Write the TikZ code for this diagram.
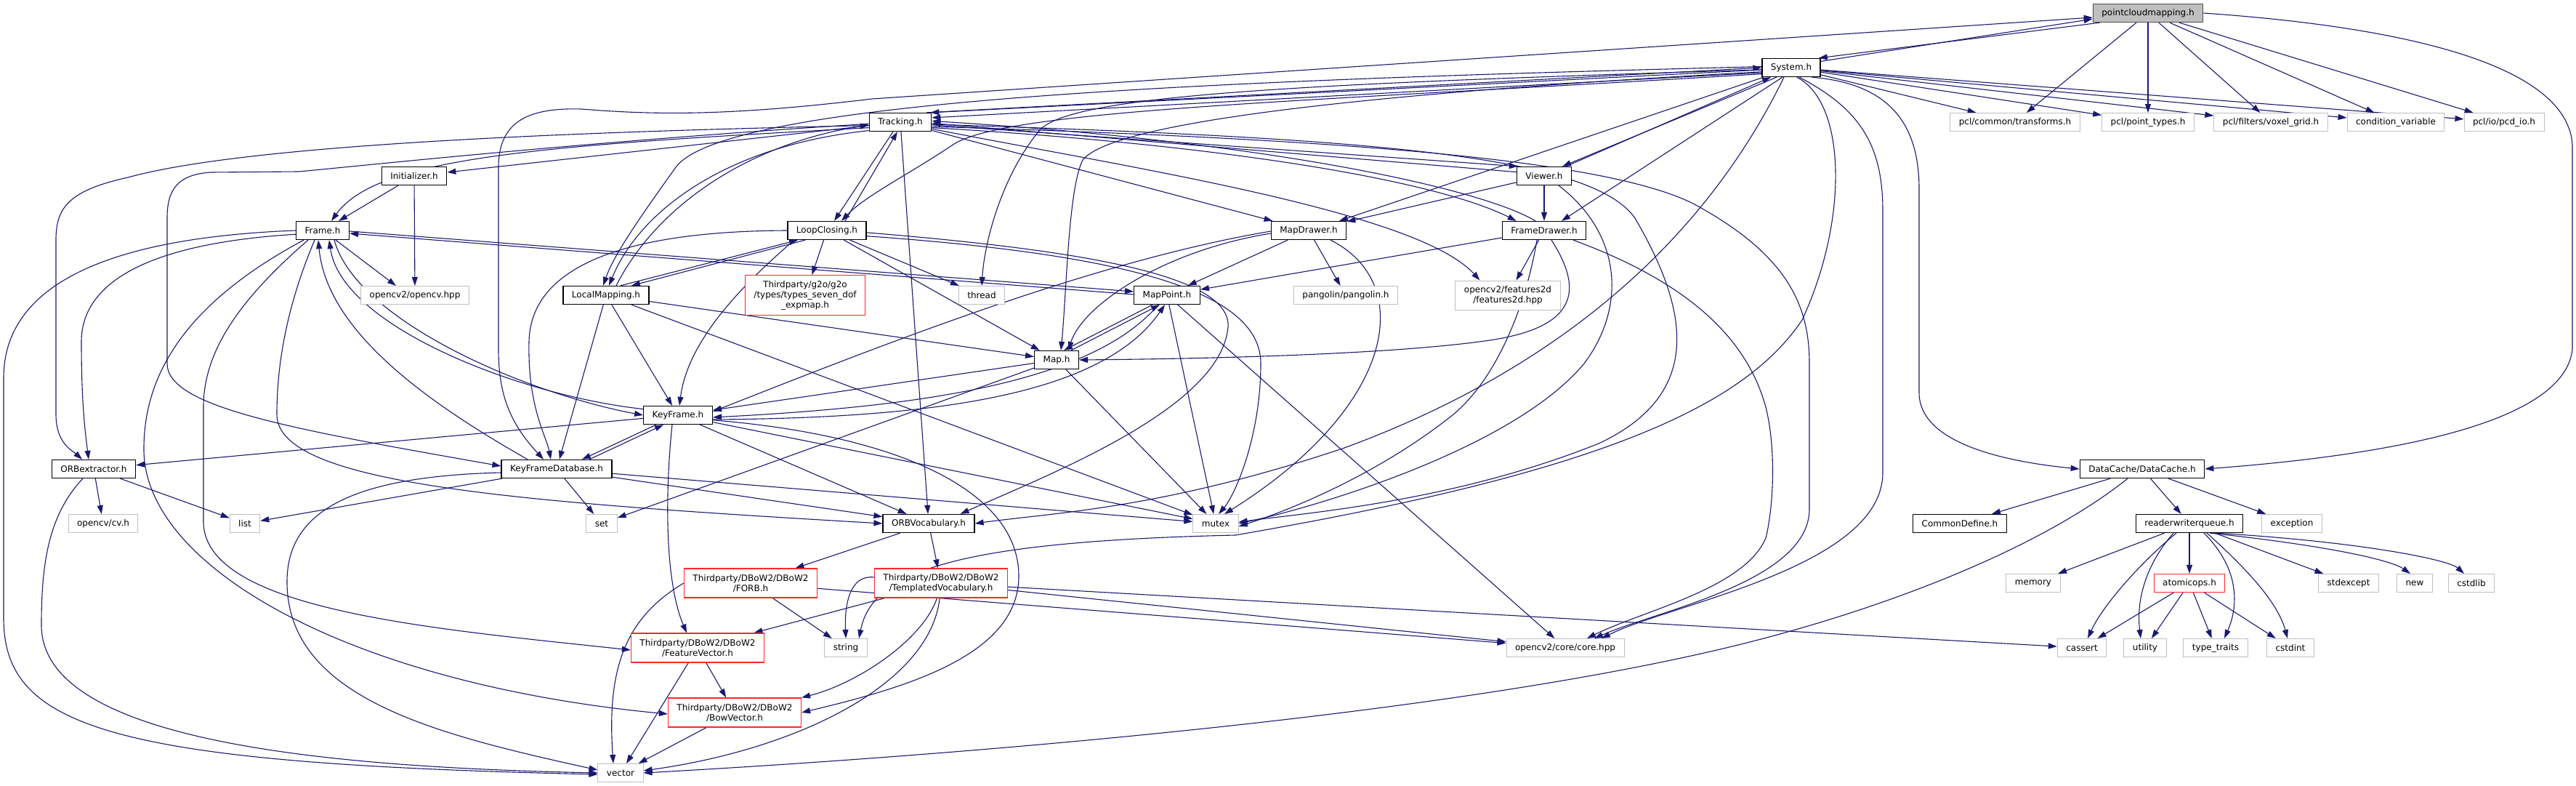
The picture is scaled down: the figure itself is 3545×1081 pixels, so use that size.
\documentclass[tikz,border=0pt]{standalone}
\usepackage{fontspec}
\setmainfont{DejaVu Sans}
\usepackage{xcolor}
\usepackage{tikz}
\usetikzlibrary{calc,positioning,arrows.meta,backgrounds}

\definecolor{edgeblue}{RGB}{25,25,112}
\definecolor{boxgray}{RGB}{191,191,191}
\definecolor{boxred}{RGB}{255,40,40}

\tikzset{
  hdr/.style={draw=black, line width=1.3pt, fill=white, inner xsep=12pt,
    inner ysep=0pt, minimum height=25pt, align=center,
    font=\fontsize{12}{14}\selectfont},
  ext/.style={hdr, draw=boxgray, line width=1pt},
  trunc/.style={hdr, draw=boxred, line width=1.2pt},
  root/.style={hdr, fill=boxgray, draw=black!70},
  dep/.style={draw=edgeblue, line width=1.1pt,
    -{Triangle[length=12pt,width=8pt]}},
  mutual/.style={dep, {Triangle[length=12pt,width=8pt]}-{Triangle[length=12pt,width=8pt]}}
}

\begin{document}
\begin{tikzpicture}[x=1pt,y=-1pt]
  \useasboundingbox (0,0) rectangle (3545,1081);

  \node[root] (pcm) at (2956,18) {pointcloudmapping.h};
  \node[hdr] (sys) at (2465,93) {System.h};
  \node[hdr] (trk) at (1239,168) {Tracking.h};
  \node[ext] (tfm) at (2773,168) {pcl/common/transforms.h};
  \node[ext] (ptt) at (2956,168) {pcl/point\_types.h};
  \node[ext] (vox) at (3125,168) {pcl/filters/voxel\_grid.h};
  \node[ext] (cnd) at (3297,168) {condition\_variable};
  \node[ext] (pcd) at (3446,168) {pcl/io/pcd\_io.h};
  \node[hdr] (ini) at (570,242) {Initializer.h};
  \node[hdr] (vwr) at (2125,242) {Viewer.h};
  \node[hdr] (frm) at (444,317) {Frame.h};
  \node[hdr] (lcl) at (1138,317) {LoopClosing.h};
  \node[hdr] (mdr) at (1801,317) {MapDrawer.h};
  \node[hdr] (fdr) at (2125,317) {FrameDrawer.h};
  \node[ext] (ocv) at (571,406) {opencv2/opencv.hpp};
  \node[hdr] (lmp) at (834,406) {LocalMapping.h};
  \node[trunc, minimum height=55pt] (g2o) at (1108,406) {Thirdparty/g2o/g2o\\/types/types\_seven\_dof\\\_expmap.h};
  \node[ext] (thr) at (1351,406) {thread};
  \node[hdr] (mpt) at (1606,406) {MapPoint.h};
  \node[ext] (pgl) at (1852,406) {pangolin/pangolin.h};
  \node[ext, minimum height=40pt] (f2d) at (2075,406) {opencv2/features2d\\/features2d.hpp};
  \node[hdr] (map) at (1454,495) {Map.h};
  \node[hdr] (kfr) at (933,571) {KeyFrame.h};
  \node[hdr] (orbx) at (129,645) {ORBextractor.h};
  \node[hdr] (kfdb) at (766,645) {KeyFrameDatabase.h};
  \node[hdr] (dch) at (2948,645) {DataCache/DataCache.h};
  \node[ext] (cvh) at (142,720) {opencv/cv.h};
  \node[ext] (lst) at (337,720) {list};
  \node[ext] (set) at (828,720) {set};
  \node[hdr] (voc) at (1278,720) {ORBVocabulary.h};
  \node[ext] (mtx) at (1673,720) {mutex};
  \node[hdr] (cmd) at (2697,720) {CommonDefine.h};
  \node[hdr] (rwq) at (3013,720) {readerwriterqueue.h};
  \node[ext] (exc) at (3154,720) {exception};
  \node[trunc, minimum height=40pt] (forb) at (1033,802) {Thirdparty/DBoW2/DBoW2\\/FORB.h};
  \node[trunc, minimum height=40pt] (tvoc) at (1295,802) {Thirdparty/DBoW2/DBoW2\\/TemplatedVocabulary.h};
  \node[ext] (mem) at (2798,802) {memory};
  \node[trunc] (atm) at (3013,802) {atomicops.h};
  \node[ext] (sex) at (3232,802) {stdexcept};
  \node[ext] (new) at (3323,802) {new};
  \node[ext] (csl) at (3401,802) {cstdlib};
  \node[trunc, minimum height=40pt] (fvec) at (960,891) {Thirdparty/DBoW2/DBoW2\\/FeatureVector.h};
  \node[ext] (str) at (1164,891) {string};
  \node[ext] (core) at (2154,891) {opencv2/core/core.hpp};
  \node[ext] (cas) at (2865,891) {cassert};
  \node[ext] (utl) at (2952,891) {utility};
  \node[ext] (ttr) at (3049,891) {type\_traits};
  \node[ext] (cin) at (3152,891) {cstdint};
  \node[trunc, minimum height=40pt] (bvec) at (1011,980) {Thirdparty/DBoW2/DBoW2\\/BowVector.h};
  \node[ext] (vec) at (854,1063) {vector};

  \begin{scope}[on background layer]
    \draw[dep] ([xshift=10pt]pcm.south west) -- ([xshift=-3pt]sys.north east);
    \draw[dep] ([xshift=-3pt,yshift=-5pt]sys.north east) -- ([yshift=5pt]pcm.south west);
    \draw[dep] (pcm) -- (tfm);
    \draw[dep] (pcm) -- (ptt);
    \draw[dep] (pcm) -- (vox);
    \draw[dep] (pcm) -- (cnd);
    \draw[dep] (pcm) -- (pcd);
    \draw[dep] (sys) -- (tfm);
    \draw[dep] (sys) -- (ptt);
    \draw[dep] (sys) -- (vox);
    \draw[dep] (sys) -- (cnd);
    \draw[dep] (sys) -- (pcd);
    \draw[dep] (pcm.east) .. controls (3350,40) and (3535,100) .. (3540,200)
      -- (3540,480) .. controls (3530,580) and (3300,625) .. (dch.east);
    \draw[mutual] ([xshift=-18pt]kfdb.north) .. controls (700,580) and (686,540) .. (686,480)
      -- (686,230) .. controls (686,165) and (730,148) .. (800,150)
      .. controls (900,158) and (1000,160) .. (1200,136) -- ([yshift=-6pt]pcm.west);

    \draw[dep] (sys.335) .. controls (2600,115) and (2641,170) .. (2641,260)
      -- (2641,540) .. controls (2641,610) and (2760,635) .. (dch.west);
    \draw[dep] (dch) -- (cmd);
    \draw[dep] (dch) -- (rwq);
    \draw[dep] (dch) -- (exc);
    \draw[dep] ([xshift=-20pt]dch.south) .. controls (2800,760) and (2580,840) .. (2400,885)
      .. controls (2000,985) and (1300,1040) .. (vec.east);
    \draw[dep] (rwq) -- (mem);
    \draw[dep] (rwq) -- (atm);
    \draw[dep] (rwq) -- (sex);
    \draw[dep] (rwq.335) .. controls (3200,750) and (3290,770) .. ([xshift=-6pt]new.north);
    \draw[dep] (rwq.340) .. controls (3250,745) and (3370,770) .. ([xshift=-10pt]csl.north);
    \draw[dep] ([xshift=-18pt]rwq.south) .. controls (2950,770) and (2895,830) .. ([xshift=8pt]cas.north);
    \draw[dep] ([xshift=-22pt]rwq.south) .. controls (2950,780) and (2940,830) .. ([xshift=-6pt]utl.north);
    \draw[dep] ([xshift=20pt]rwq.south) .. controls (3080,780) and (3082,830) .. ([xshift=12pt]ttr.north);
    \draw[dep] ([xshift=24pt]rwq.south) .. controls (3095,785) and (3135,830) .. ([xshift=-4pt]cin.north);
    \draw[dep] (atm) -- (cas);
    \draw[dep] (atm) -- (utl);
    \draw[dep] (atm) -- (ttr);
    \draw[dep] (atm) -- (cin);

    \draw[dep] (trk.20) -- (sys.west);
    \draw[dep] ([yshift=-3pt]sys.west) -- ([xshift=-2pt]trk.north east);
    \draw[dep] ([yshift=-7pt]sys.west) -- (trk.8);
    \draw[dep] ([xshift=-20pt]sys.south) -- ([xshift=25pt]vwr.north);
    \draw[dep] ([xshift=30pt]vwr.north) -- ([xshift=-28pt]sys.south);
    \draw[dep] ([xshift=-12pt]sys.south) -- ([xshift=24pt]fdr.north);
    \draw[dep] ([xshift=-38pt]sys.south) -- ([xshift=42pt]mdr.north);
    \draw[dep] (sys.188) .. controls (1850,130) and (1530,170) .. (1490,220)
      .. controls (1470,260) and (1468,400) .. ([xshift=6pt]map.north);
    \draw[dep] (sys.184) .. controls (1800,115) and (1470,130) .. (1430,180)
      .. controls (1380,240) and (1355,330) .. (thr.north);
    \draw[dep] (sys.192) .. controls (1800,140) and (1380,150) .. (1310,200)
      .. controls (1250,240) and (1190,270) .. ([xshift=20pt]lcl.north);
    \draw[dep] (sys.178) .. controls (1700,110) and (1000,135) .. (930,230)
      .. controls (880,300) and (845,350) .. ([xshift=-4pt]lmp.north);
    \draw[dep] ([xshift=-10pt]sys.south) .. controls (2380,260) and (2220,480) .. (1850,616)
      .. controls (1600,700) and (1450,705) .. (voc.east);
    \draw[dep] (sys.300) .. controls (2540,140) and (2545,300) .. (2480,440)
      .. controls (2400,560) and (2200,650) .. (1700,736)
      .. controls (1300,745) and (1200,790) .. ([xshift=18pt]str.north);
    \draw[dep] (sys.310) .. controls (2560,150) and (2591,200) .. (2591,290)
      -- (2591,650) .. controls (2591,780) and (2300,830) .. ([xshift=50pt]core.north);

    \draw[dep] (trk.355) -- (vwr.160);
    \draw[dep] (vwr.172) -- (trk.358);
    \draw[dep] (trk.350) .. controls (1700,200) and (1980,250) .. ([xshift=20pt]fdr.north west);
    \draw[dep] ([xshift=-12pt]fdr.north) .. controls (2040,260) and (1750,195) .. (trk.2);
    \draw[dep] (trk) -- (mdr);
    \draw[dep] (trk.348) .. controls (1550,230) and (1950,290) .. ([xshift=34pt]f2d.north west);
    \draw[dep] (trk.195) .. controls (1000,200) and (880,290) .. ([xshift=4pt]lmp.north);
    \draw[dep] ([xshift=14pt]lmp.north) .. controls (900,290) and (1020,200) .. (trk.185);
    \draw[dep] ([xshift=-10pt]trk.south) -- ([xshift=10pt]lcl.north);
    \draw[dep] ([xshift=25pt]lcl.north) -- ([xshift=-4pt]trk.south);
    \draw[dep] (trk.190) .. controls (750,200) and (520,215) .. ([xshift=12pt]frm.north);
    \draw[dep] (trk) -- (ini);
    \draw[dep] (trk.186) .. controls (600,185) and (300,210) .. (176,244)
      .. controls (95,262) and (77,285) .. (77,330) -- (77,570)
      .. controls (77,610) and (100,620) .. ([xshift=-16pt]orbx.north);
    \draw[dep] (trk.183) .. controls (800,195) and (480,230) .. (411,236) -- (290,237)
      .. controls (245,240) and (230,260) .. (230,300) -- (230,500)
      .. controls (230,560) and (400,590) .. ([yshift=4pt]kfdb.west);
    \draw[dep] (trk) -- (voc);
    \draw[dep] (trk.352) .. controls (1800,190) and (2200,215) .. (2330,280)
      .. controls (2460,350) and (2490,420) .. (2490,500) -- (2490,700)
      .. controls (2490,800) and (2280,840) .. ([xshift=40pt]core.north);
    \draw[dep] (trk.356) .. controls (1900,190) and (2190,215) .. (2250,300)
      .. controls (2320,420) and (2350,540) .. (2200,610)
      .. controls (2000,690) and (1800,705) .. ([yshift=2pt]mtx.east);

    \draw[dep] (vwr) -- (fdr);
    \draw[dep] (vwr) -- (mdr);
    \draw[dep] ([xshift=20pt]vwr.south) .. controls (2230,320) and (2240,420) .. (2180,500)
      .. controls (2080,620) and (1800,700) .. (mtx.east);

    \draw[dep] (fdr) -- (mpt);
    \draw[dep] (fdr) -- (f2d);
    \draw[dep] ([xshift=10pt]fdr.south) .. controls (2180,400) and (2170,450) .. (2050,468)
      .. controls (1900,490) and (1600,494) .. (map.east);
    \draw[dep] ([xshift=40pt]fdr.south) .. controls (2300,380) and (2400,450) .. (2430,560)
      .. controls (2445,620) and (2440,700) .. (2430,740)
      .. controls (2400,810) and (2260,840) .. ([xshift=30pt]core.north);
    \draw[dep] ([xshift=-10pt]fdr.south) .. controls (2100,420) and (2060,520) .. (2000,570)
      .. controls (1900,650) and (1780,700) .. ([yshift=-4pt]mtx.east);

    \draw[dep] (mdr) -- (mpt);
    \draw[dep] (mdr) -- (pgl);
    \draw[dep] ([yshift=-4pt]mdr.west) .. controls (1600,345) and (1490,420) .. ([xshift=16pt]map.north);
    \draw[dep] ([yshift=-1pt]mdr.west) .. controls (1500,360) and (1200,480) .. ([yshift=5pt]kfr.east);
    \draw[dep] ([xshift=30pt]mdr.south) .. controls (1950,390) and (1920,560) .. ([xshift=12pt]mtx.north);

    \draw[dep] ([yshift=-1pt]frm.east) -- ([yshift=5pt]mpt.west);
    \draw[dep] ([yshift=1pt]mpt.west) -- ([yshift=-4pt]frm.east);
    \draw[dep] ([xshift=-20pt]mpt.south) -- ([xshift=10pt]map.north);
    \draw[dep] ([xshift=20pt]map.north) -- ([xshift=-10pt]mpt.south);
    \draw[dep] ([xshift=-12pt]mpt.south) .. controls (1500,530) and (1250,560) .. ([yshift=-3pt]kfr.east);
    \draw[dep] ([yshift=-6pt]kfr.east) .. controls (1300,575) and (1520,540) .. ([xshift=-3pt]mpt.south);
    \draw[dep] (mpt) -- (core);
    \draw[dep] (mpt) -- (mtx);

    \draw[dep] (map) -- (kfr);
    \draw[dep] (map) -- (set);
    \draw[dep] (map) -- (mtx);

    \draw[dep] (lmp) -- (kfr);
    \draw[dep] (lmp) -- (kfdb);
    \draw[dep] (lmp) -- (map);
    \draw[dep] (lmp) -- (mtx);
    \draw[dep] ([xshift=20pt]lmp.north) -- ([xshift=-40pt]lcl.south);
    \draw[dep] ([xshift=-30pt]lcl.south) -- ([xshift=35pt]lmp.north);

    \draw[dep] (lcl) -- (g2o);
    \draw[dep] (lcl) -- (thr);
    \draw[dep] (lcl) -- (map);
    \draw[dep] ([xshift=-45pt]lcl.south) .. controls (1000,410) and (945,480) .. ([xshift=2pt]kfr.north);
    \draw[dep] (lcl.west) .. controls (850,318) and (730,370) .. (728,470)
      .. controls (726,560) and (752,600) .. ([xshift=-8pt]kfdb.north);
    \draw[dep] (lcl.357) .. controls (1500,345) and (1695,380) .. (1690,450)
      .. controls (1680,560) and (1450,650) .. ([xshift=-20pt]voc.north east);
    \draw[dep] (lcl.352) .. controls (1550,350) and (1735,400) .. (1735,500)
      .. controls (1735,600) and (1700,680) .. ([xshift=4pt]mtx.north);

    \draw[dep] (ini) -- (frm);
    \draw[dep] (ini) -- (ocv);
    \draw[dep] ([xshift=18pt]frm.south) -- ([xshift=-26pt]ocv.north);
    \draw[dep] (frm.west) .. controls (200,325) and (5,370) .. (5,520) -- (5,850)
      .. controls (5,1000) and (150,1050) .. ([yshift=-2pt]vec.west);
    \draw[dep] (frm.188) .. controls (200,335) and (112,390) .. (112,470)
      .. controls (112,560) and (118,600) .. ([xshift=-7pt]orbx.north);
    \draw[dep] ([xshift=-26pt]frm.south) .. controls (250,420) and (197,520) .. (198,620)
      .. controls (200,780) and (480,940) .. ([yshift=-2pt]bvec.west);
    \draw[dep] ([xshift=-20pt]frm.south) .. controls (320,420) and (280,490) .. (280,560) -- (280,720)
      .. controls (285,840) and (600,865) .. ([yshift=-3pt]fvec.west);
    \draw[dep] ([xshift=-11pt]frm.south) .. controls (395,420) and (381,500) .. (381,570)
      .. controls (381,665) and (700,690) .. (voc.west);
    \draw[dep] (kfr.170) .. controls (720,545) and (470,450) .. ([xshift=9pt]frm.south);
    \draw[dep] ([xshift=16pt]frm.south) .. controls (490,440) and (720,540) .. (kfr.west);

    \draw[dep] (kfr) -- (orbx);
    \draw[dep] (kfr) -- (voc);
    \draw[dep] (kfr) -- (mtx);
    \draw[dep] ([xshift=-30pt]kfr.south) -- ([xshift=35pt]kfdb.north);
    \draw[dep] ([xshift=45pt]kfdb.north) -- ([xshift=-20pt]kfr.south);
    \draw[dep] ([xshift=-8pt]kfr.south) .. controls (915,680) and (915,800) .. ([xshift=-15pt]fvec.north);
    \draw[dep] (kfr.352) .. controls (1250,600) and (1400,680) .. (1402,790)
      .. controls (1404,900) and (1250,945) .. (bvec.east);

    \draw[dep] ([xshift=-40pt]kfdb.north) .. controls (600,560) and (450,460) .. ([xshift=-6pt]frm.south);
    \draw[dep] (kfdb) -- (lst);
    \draw[dep] (kfdb) -- (set);
    \draw[dep] (kfdb) -- (voc);
    \draw[dep] (kfdb) -- (mtx);
    \draw[dep] ([yshift=-5pt]kfdb.west) .. controls (490,655) and (395,700) .. (395,800)
      .. controls (395,960) and (600,1010) .. ([yshift=4pt]vec.west);

    \draw[dep] (orbx) -- (lst);
    \draw[dep] (orbx) -- (cvh);
    \draw[dep] ([xshift=-15pt]orbx.south) .. controls (65,710) and (57,780) .. (57,860)
      .. controls (57,1020) and (450,1055) .. (vec.west);

    \draw[dep] (voc) -- (forb);
    \draw[dep] (voc) -- (tvoc);
    \draw[dep] (forb) -- (core);
    \draw[dep] (forb) -- (str);
    \draw[dep] (forb.west) .. controls (860,850) and (835,920) .. ([xshift=-10pt]vec.north);
    \draw[dep] (tvoc) -- (core);
    \draw[dep] (tvoc) -- (cas);
    \draw[dep] (tvoc) -- (fvec);
    \draw[dep] ([yshift=8pt]tvoc.west) .. controls (1170,790) and (1162,830) .. (str.north);
    \draw[dep] (tvoc.255) .. controls (1270,880) and (1180,940) .. (bvec.north east);
    \draw[dep] (tvoc.265) .. controls (1280,940) and (1100,1030) .. ([yshift=3pt]vec.east);
    \draw[dep] (fvec) -- (bvec);
    \draw[dep] (fvec) -- (vec);
    \draw[dep] (bvec) -- (vec);
  \end{scope}
\end{tikzpicture}
\end{document}
